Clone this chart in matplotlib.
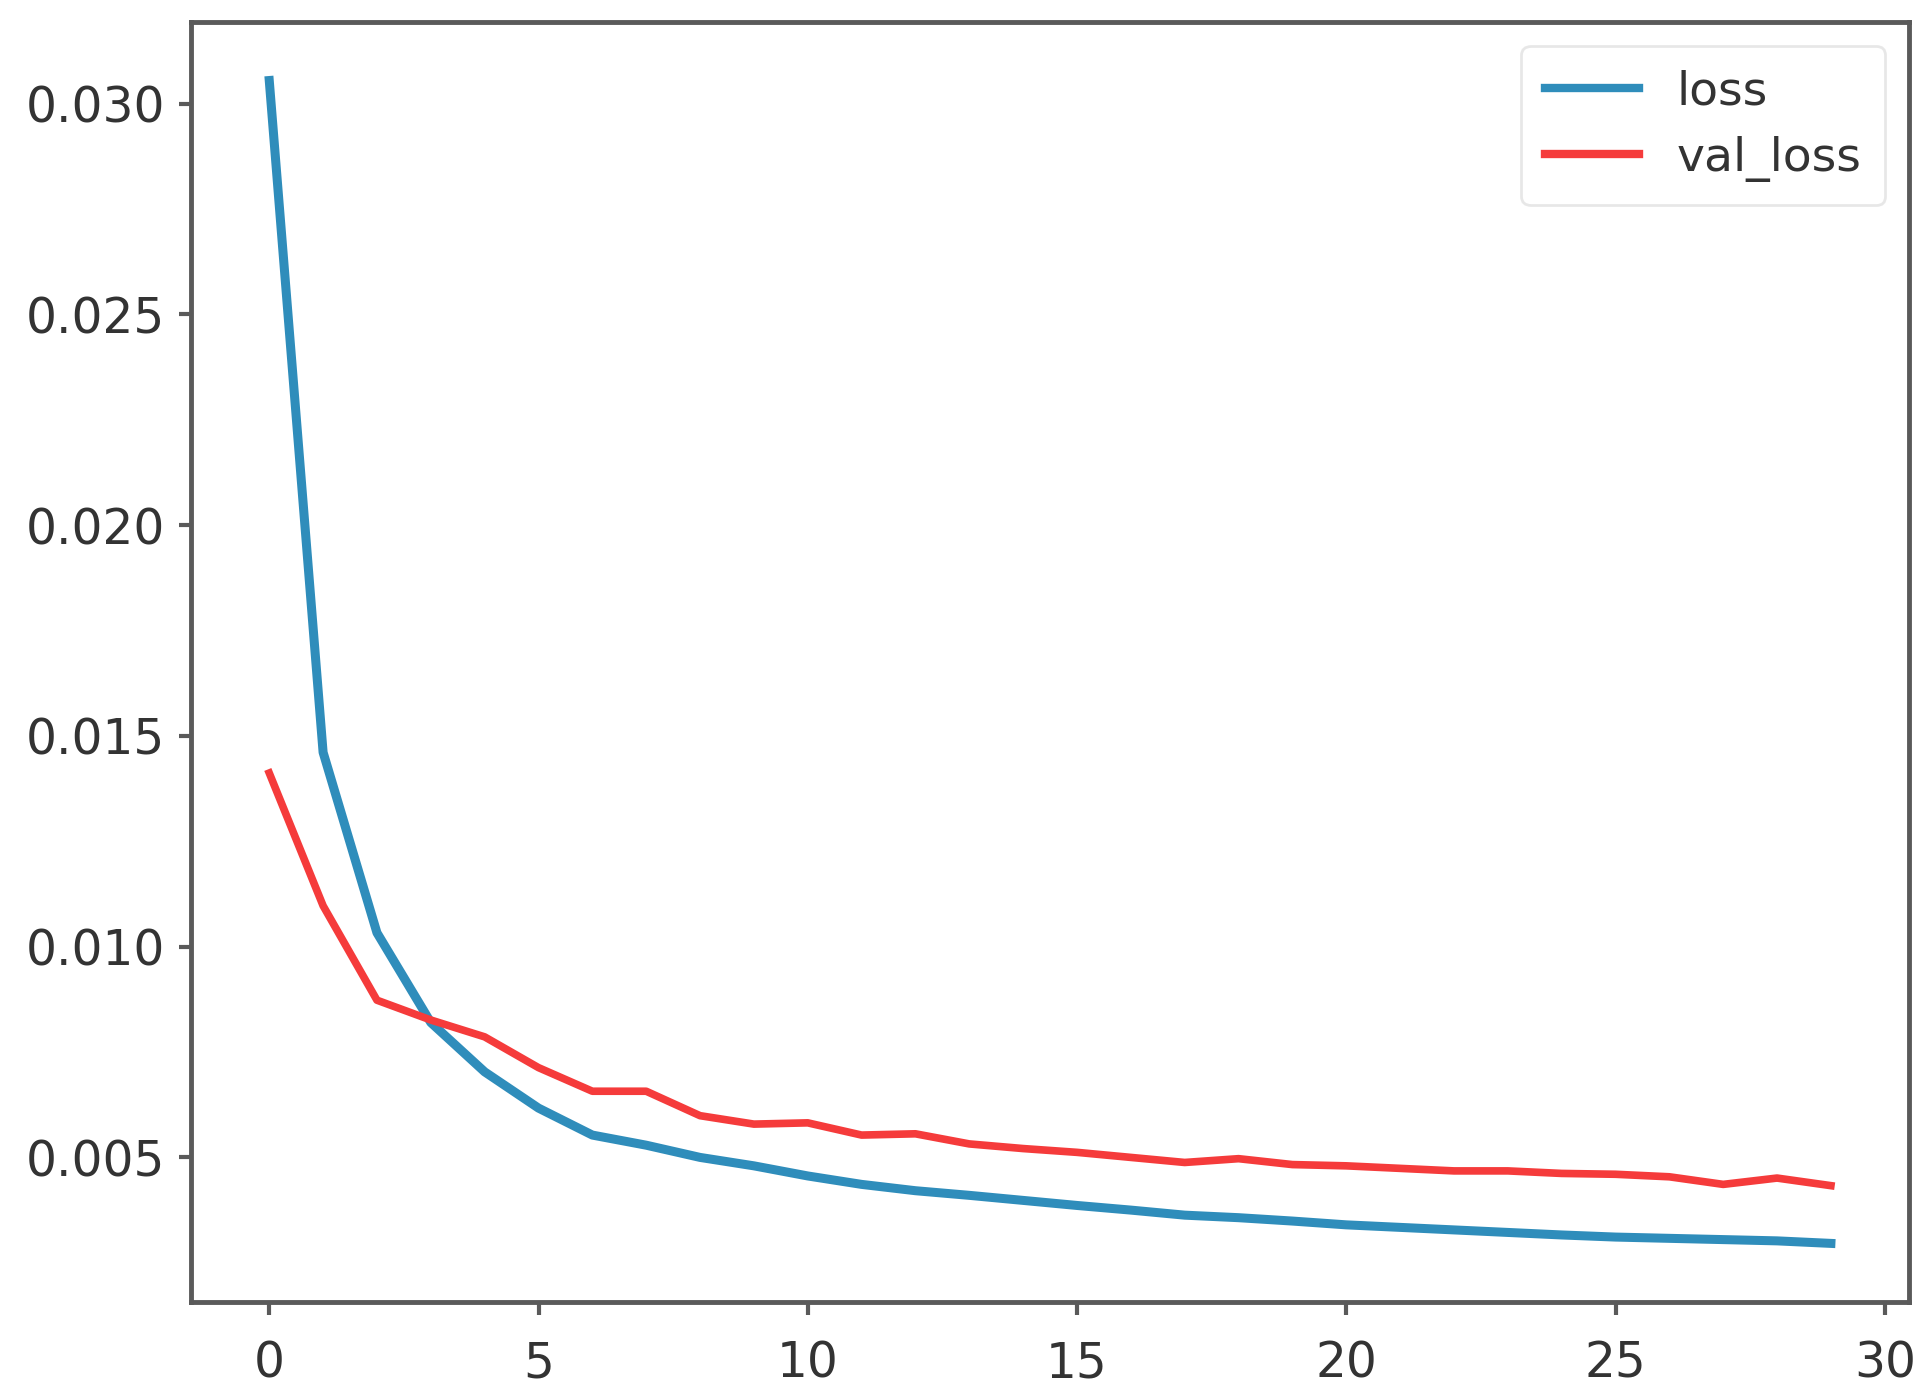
import matplotlib
matplotlib.use("Agg")
import matplotlib.pyplot as plt

epochs = list(range(30))

loss = [0.03055, 0.01461, 0.01033, 0.0082, 0.00703, 0.00617, 0.00553, 0.00529,
        0.00500, 0.00480, 0.00456, 0.00436, 0.00421, 0.00410, 0.00398, 0.00386,
        0.00375, 0.00363, 0.00357, 0.00349, 0.00340, 0.00334, 0.00328, 0.00322,
        0.00316, 0.00311, 0.00308, 0.00305, 0.00302, 0.00296]

val_loss = [0.01412, 0.01097, 0.00873, 0.00826, 0.00786, 0.00713, 0.00657, 0.00657,
            0.00599, 0.00579, 0.00582, 0.00553, 0.00556, 0.00532, 0.00521, 0.00512,
            0.00500, 0.00488, 0.00497, 0.00483, 0.00480, 0.00474, 0.00468, 0.00468,
            0.00462, 0.00460, 0.00454, 0.00436, 0.00451, 0.00433]

fig = plt.figure(figsize=(19.31, 13.98), dpi=100)
ax = fig.add_axes([0.099, 0.069, 0.8896, 0.915])

ax.plot(epochs, loss, color="#2f8dbb", linewidth=6.5, label="loss")
ax.plot(epochs, val_loss, color="#f53b3b", linewidth=5.5, label="val_loss")

ax.set_xticks([0, 5, 10, 15, 20, 25, 30])
ax.set_yticks([0.005, 0.010, 0.015, 0.020, 0.025, 0.030])
ax.set_yticklabels(["0.005", "0.010", "0.015", "0.020", "0.025", "0.030"])

for s in ax.spines.values():
    s.set_linewidth(3.5)
    s.set_color("#5a5a5a")
ax.tick_params(labelsize=35, length=9, width=3, color="#5a5a5a",
               labelcolor="#333333")
ax.tick_params(axis="x", pad=18)
ax.tick_params(axis="y", pad=10)

leg = ax.legend(fontsize=34, loc="upper right", handlelength=2.0,
                borderpad=0.5, labelspacing=0.45, framealpha=0.8)
leg.get_frame().set_linewidth(2)
leg.get_frame().set_edgecolor("#e2e2e2")
for t in leg.get_texts():
    t.set_color("#333333")
for h in leg.get_lines():
    h.set_linewidth(6)

fig.savefig("out.png", dpi=100)
